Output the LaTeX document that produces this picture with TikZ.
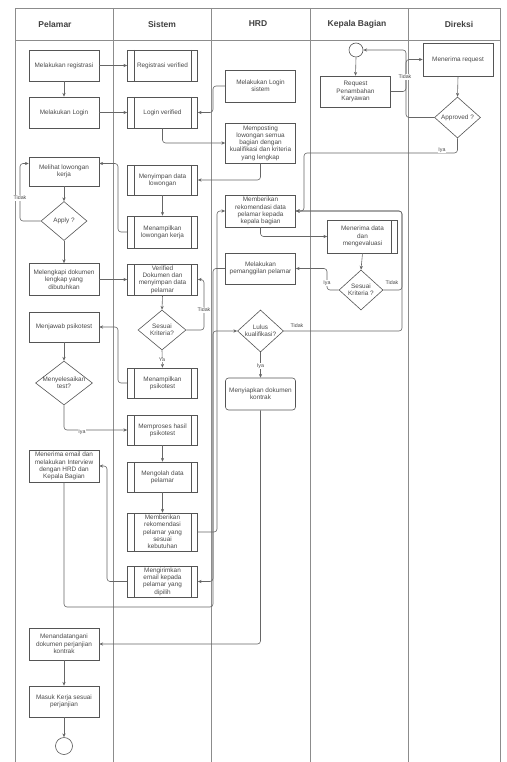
\documentclass[tikz,border=0pt]{standalone}
\usepackage{fontspec}
\setmainfont{Liberation Sans}
\usetikzlibrary{shapes.geometric,arrows.meta,calc}
\definecolor{bd}{HTML}{555555}
\definecolor{ln}{HTML}{8C8C8C}
\definecolor{tx}{HTML}{4A4A4A}
\definecolor{ar}{HTML}{666666}
\begin{document}
\begin{tikzpicture}[x=1pt,y=-1pt,
  every node/.style={font=\fontsize{6.4}{7.3}\selectfont, text=tx},
  box/.style={draw=bd, line width=0.6pt, fill=white, minimum width=70pt, minimum height=31pt, inner sep=0.5pt, align=center},
  sub/.style={box, path picture={\draw[bd,line width=0.6pt]
     ([xshift=6.5pt]path picture bounding box.north west) -- ([xshift=6.5pt]path picture bounding box.south west)
     ([xshift=-6.5pt]path picture bounding box.north east) -- ([xshift=-6.5pt]path picture bounding box.south east);}},
  subr/.style={box, path picture={\draw[bd,line width=0.6pt]
     ([xshift=-6.5pt]path picture bounding box.north east) -- ([xshift=-6.5pt]path picture bounding box.south east);}},
  dec/.style={diamond, draw=bd, line width=0.6pt, fill=white, inner sep=0pt},
  dtxt/.style={label={[align=center, font=\fontsize{6.4}{7.3}\selectfont, text=tx]center:#1}},
  arr/.style={draw=ar, line width=0.6pt, rounded corners=3pt, -{Stealth[length=3.8pt,width=3.2pt]}},
  lab/.style={font=\fontsize{5.3}{6}\selectfont, fill=white, inner sep=0.6pt},
  hdr/.style={font=\fontsize{8.5}{10}\selectfont\bfseries, text=black!75}
]
\useasboundingbox (0,0) rectangle (506,762);
% lanes
\draw[ln, line width=0.7pt] (15,775) -- (15,8) -- (500,8) -- (500,775);
\draw[ln, line width=0.7pt] (15,40) -- (500,40);
\foreach \xx in {113,211,310,408} \draw[ln, line width=0.7pt] (\xx,8) -- (\xx,775);
\node[hdr] (h1) at (55,24) {Pelamar};
\node[hdr] (h2) at (162,24) {Sistem};
\node[hdr] (h3) at (258,24) {HRD};
\node[hdr] (h4) at (357,24) {Kepala Bagian};
\node[hdr] (h5) at (459,24) {Direksi};

% Pelamar
\node[box] (reg) at (64,65.5) {Melakukan registrasi};
\node[box] (login) at (64,112.5) {Melakukan Login};
\node[box, minimum height=29pt] (lihat) at (64,171.5) {Melihat lowongan\\kerja};
\node[dec, minimum width=46pt, minimum height=39pt, dtxt={Apply ?}] (apply) at (64,221) {};
\node[box, minimum height=32pt] (lengkap) at (64,279.5) {Melengkapi dokumen\\lengkap yang\\dibutuhkan};
\node[box, minimum height=30pt] (jawab) at (64,327) {Menjawab psikotest};
\node[dec, minimum width=57pt, minimum height=44pt, dtxt={Menyelesaikan\\test?}] (selesai) at (64,383) {};
\node[box, minimum height=32pt] (interview) at (64,466) {Menerima email dan\\melakukan Interview\\dengan HRD dan\\Kepala Bagian};
\node[box, minimum height=32pt] (tanda) at (64,644) {Menandatangani\\dokumen perjanjian\\kontrak};
\node[box] (masuk) at (64,701.5) {Masuk Kerja sesuai\\perjanjian};
\node[circle, draw=bd, line width=0.6pt, minimum size=17pt, inner sep=0pt] (end) at (64,746) {};

% Sistem
\node[sub] (regv) at (162.5,65.5) {Registrasi verified};
\node[sub] (loginv) at (162.5,112.5) {Login verified};
\node[sub, minimum height=30pt] (simpan) at (162.5,180) {Menyimpan data\\lowongan};
\node[sub, minimum height=32pt] (tampil) at (162.5,232) {Menampilkan\\lowongan kerja};
\node[sub] (verif) at (162.5,279.5) {Verified\\Dokumen dan\\menyimpan data\\pelamar};
\node[dec, minimum width=48pt, minimum height=40pt, dtxt={Sesuai\\Kriteria?}] (sk1) at (162,330) {};
\node[sub, minimum height=30pt] (tpsi) at (162.5,383) {Menampilkan\\psikotest};
\node[sub, minimum height=30pt] (proses) at (162.5,430) {Memproses hasil\\psikotest};
\node[sub, minimum height=30pt] (olah) at (162.5,477) {Mengolah data\\pelamar};
\node[sub, minimum height=38pt] (rek) at (162.5,532) {Memberikan\\rekomendasi\\pelamar yang\\sesuai\\kebutuhan};
\node[sub] (kirim) at (162.5,581.5) {Mengirimkan\\email kepada\\pelamar yang\\dipilih};

% HRD
\node[box, minimum height=32pt] (loginsys) at (260.5,86) {Melakukan Login\\sistem};
\node[box, minimum height=40pt] (posting) at (260.5,143) {Memposting\\lowongan semua\\bagian dengan\\kualifikasi dan kriteria\\yang lengkap};
\node[box, minimum height=32pt] (rekdata) at (260.5,211) {Memberikan\\rekomendasi data\\pelamar kepada\\kepala bagian};
\node[box] (panggil) at (260.5,268.5) {Melakukan\\pemanggilan pelamar};
\node[dec, minimum width=46pt, minimum height=42pt, dtxt={Lulus\\kualifikasi?}] (lulus) at (260.5,331) {};
\node[box, rounded corners=3pt, minimum height=32pt] (kontrak) at (260.5,394) {Menyiapkan dokumen\\kontrak};

% Kepala Bagian
\node[circle, draw=bd, line width=0.6pt, minimum size=14pt, inner sep=0pt] (start) at (356,50) {};
\node[box] (request) at (355.5,91.5) {Request\\Penambahan\\Karyawan};
\node[subr, minimum height=33pt] (terima) at (362.5,236.5) {Menerima data\\dan\\mengevaluasi};
\node[dec, minimum width=44pt, minimum height=40pt, dtxt={Sesuai\\Kriteria ?}] (sk2) at (361,290) {};

% Direksi
\node[box, minimum height=33pt] (mreq) at (458,59.5) {Menerima request};
\node[dec, minimum width=46pt, minimum height=41pt, dtxt={Approved ?}] (appr) at (457.5,117.5) {};

% connectors
\draw[arr] (reg.east) -- (regv.west);
\draw[arr] (reg.south) -- (login.north);
\draw[arr] (login.east) -- (loginv.west);
\draw[arr] (loginsys.west) -- (213,86) |- (loginv.east);
\draw[arr] (loginv.south) |- (posting.west);
\draw[arr] (posting.south) |- (simpan.east);
\draw[arr] (simpan.south) -- (tampil.north);
\draw[arr] (tampil.west) -- (118,232) |- ([yshift=8pt]lihat.east);
\draw[arr] (lihat.south) -- (apply.north);
\draw[arr] (apply.west) -- (20,221) |- ([yshift=8pt]lihat.west);
\node[lab] (l1) at (20,198) {Tidak};
\draw[arr] (apply.south) -- (lengkap.north);
\draw[arr] (lengkap.east) -- (verif.west);
\draw[arr] (verif.south) -- (sk1.north);
\draw[arr] (sk1.east) -- (204,330) |- (verif.east);
\node[lab] (l2) at (204,310) {Tidak};
\draw[arr] (sk1.south) -- (tpsi.north);
\node[lab] (l3) at (162,360) {Ya};
\draw[arr] (tpsi.west) -- (118,383) |- (jawab.east);
\draw[arr] (jawab.south) -- (selesai.north);
\draw[arr] (selesai.south) |- (proses.west);
\node[lab] (l4) at (82,432) {Iya};
\draw[arr] (proses.south) -- (olah.north);
\draw[arr] (olah.south) -- (rek.north);
\draw[arr] (rek.east) -- (217,532) |- (rekdata.west);
\draw[arr] (rekdata.south) |- (terima.west);
\draw[arr] (terima.south) -- (sk2.north);
\draw[arr] (sk2.west) -- (327,290) |- (panggil.east);
\node[lab] (l5) at (327,283) {Iya};
\draw[arr] (sk2.east) -- (402,290) |- (rekdata.east);
\node[lab] (l6) at (392,283) {Tidak};
\draw[arr] (panggil.west) -- (213,268.5) |- (kirim.east);
\draw[arr] (kirim.west) -- (107,581.5) |- (interview.east);
\draw[arr] (interview.south) |- (213,607) |- (lulus.west);
\draw[arr] (lulus.east) -- (402,331) |- (rekdata.east);
\node[lab] (l7) at (297,326) {Tidak};
\draw[arr] (lulus.south) -- (kontrak.north);
\node[lab] (l8) at (260.5,366) {Iya};
\draw[arr] (kontrak.south) |- (tanda.east);
\draw[arr] (tanda.south) -- (masuk.north);
\draw[arr] (masuk.south) -- (end.north);
\draw[arr] (start.south) -- (request.north);
\draw[arr] (request.east) -- (406,91.5) |- (mreq.west);
\draw[arr] (appr.west) -- (406,117.5) |- (start.east);
\node[lab] (l9) at (405,77) {Tidak};
\draw[arr] (mreq.south) -- (appr.north);
\draw[arr] (appr.south) |- (304,153) |- (rekdata.east);
\node[lab] (l10) at (442,150) {Iya};
\end{tikzpicture}
\end{document}
